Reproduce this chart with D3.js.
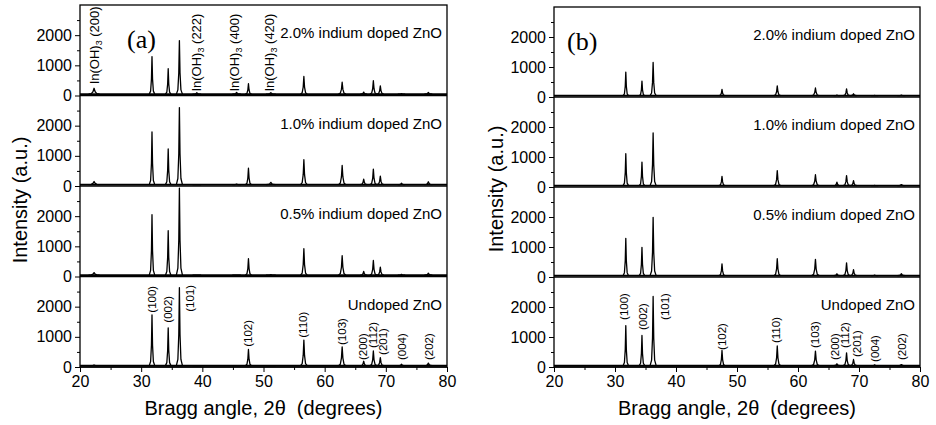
<!DOCTYPE html>
<html>
<head>
<meta charset="utf-8">
<script src="https://cdn.jsdelivr.net/npm/d3@7/dist/d3.min.js"></script>
<style>
  body { margin: 0; background: #fff; }
  svg { font-family: "Liberation Sans", Arial, sans-serif; }
  .axis text { font-size: 16px; fill: #000; }
  .axis line { stroke: #000; stroke-width: 1; }
  .axis .domain { display: none; }
  .trace { fill: none; stroke: #000; stroke-width: 1.3; stroke-linejoin: round; }
  .trace.base { stroke-width: 1.8; }
  .frame { fill: none; stroke: #000; stroke-width: 1.3; }
  .sample-label { font-size: 15px; text-anchor: end; }
  .hkl-label { font-size: 11.5px; }
  .inoh-label { font-size: 13px; }
  .axis-title { font-size: 20px; white-space: pre; text-anchor: middle; }
  .panel-letter { font-family: "Liberation Serif", "Times New Roman", serif; font-size: 26px; }
</style>
</head>
<body>
<div id="chart"></div>
<script>
// ---- data ----
const samples = ['2.0% indium doped ZnO', '1.0% indium doped ZnO', '0.5% indium doped ZnO', 'Undoped ZnO'];

// ZnO reflections, 2theta (deg)
const znoPeaks = [31.77, 34.42, 36.25, 47.54, 56.60, 62.86, 66.38, 67.96, 69.10, 72.56, 76.95];
const znoHkl = ['(100)', '(002)', '(101)', '(102)', '(110)', '(103)', '(200)', '(112)', '(201)', '(004)', '(202)'];
const peakHalfWidths = [0.45, 0.45, 0.5, 0.5, 0.55, 0.6, 0.55, 0.55, 0.55, 0.6, 0.65];

// In(OH)3 reflections seen in (a)
const inohPeaks = [22.3, 39.1, 45.6, 51.2];
const inohHkl = ['(200)', '(222)', '(400)', '(420)'];
const inohHalfWidths = [0.9, 0.7, 0.7, 0.8];

const baseLevel = 45;

// panel (a) peak heights, same order as znoPeaks
const a20 = [1290, 890, 1820, 390, 630, 440, 110, 490, 320, 60, 100];
const a10 = [1790, 1230, 2600, 590, 870, 680, 230, 560, 330, 90, 140];
const a05 = [2050, 1520, 2930, 590, 920, 690, 170, 530, 310, 70, 110];
const a00 = [1730, 1300, 2630, 580, 890, 670, 190, 530, 310, 90, 130];
// panel (a) In(OH)3 bumps
const a20In = [240, 90, 100, 90];
const a10In = [150, 45, 60, 120];
const a05In = [130, 45, 45, 60];
const a00In = [60, 45, 45, 45];

// panel (b) peak heights
const b20 = [830, 530, 1150, 255, 370, 300, 60, 270, 110, 50, 60];
const b10 = [1110, 830, 1800, 355, 545, 410, 160, 380, 210, 50, 80];
const b05 = [1290, 990, 1990, 440, 610, 590, 110, 470, 245, 60, 110];
const b00 = [1380, 1050, 2350, 550, 700, 530, 110, 470, 250, 70, 80];

// hkl annotation anchors [2theta, intensity at label foot] (undoped panels)
const hklAnchorsA = [[31.8, 1800], [34.4, 1470], [38.0, 1830], [47.5, 670], [56.5, 970], [62.8, 730],
                     [66.3, 230], [67.9, 630], [69.6, 400], [72.6, 230], [77.0, 230]];
const hklAnchorsB = [[31.5, 1570], [34.6, 1230], [38.2, 1570], [47.5, 570], [56.4, 800], [62.8, 630],
                     [66.1, 230], [67.7, 630], [69.7, 330], [72.6, 170], [77.0, 230]];
const inohAnchors = [[22.3, 370], [39.1, 130], [45.2, 130], [51.0, 130]];

const xTicks = [20, 30, 40, 50, 60, 70, 80];
const xMinorTicks = [25, 35, 45, 55, 65, 75];
const yTicks = [0, 1000, 2000];
const yMinorTicks = [500, 1500, 2500];

class XrdPanel {
    constructor(_config, _heights, _inohHeights, _hklAnchors) {
        this.config = {
            svg: _config.svg,
            left: _config.left,
            right: _config.right,
            top: _config.top,
            bottom: _config.bottom,
            letter: _config.letter,
            letterX: _config.letterX,
            titleY: _config.titleY,
            titleX: _config.titleX,
            showInoh: _config.showInoh || false
        };
        this.heights = _heights;
        this.inohHeights = _inohHeights;
        this.hklAnchors = _hklAnchors;
        // shape of one reflection: offsets (x half width) and fraction of peak height
        this.peakOffsets = [-1, -0.5, -0.2, 0, 0.2, 0.5, 1];
        this.peakFractions = [0, 0.08, 0.4, 1, 0.4, 0.08, 0];
        this.initVis();
    }

    initVis() {
        let vis = this;
        const c = vis.config;
        vis.subHeight = (c.bottom - c.top) / samples.length;
        vis.xScale = d3.scaleLinear().domain([20, 80]).range([c.left, c.right]);
        vis.g = c.svg.append('g').attr('class', 'panel');
        vis.renderVis();
    }

    peakPath(yScale, pos, h, w) {
        let vis = this;
        const pts = vis.peakOffsets.map((o, k) => [pos + o * w, baseLevel + (h - baseLevel) * vis.peakFractions[k]]);
        return d3.line().x(d => vis.xScale(d[0])).y(d => yScale(d[1]))(pts);
    }

    renderVis() {
        let vis = this;
        const c = vis.config;

        samples.forEach((name, i) => {
            const subTop = c.top + i * vis.subHeight;
            const yScale = d3.scaleLinear().domain([0, 3000]).range([subTop + vis.subHeight, subTop]);
            const sub = vis.g.append('g').attr('class', 'sub');

            // baseline
            sub.append('path').attr('class', 'trace base')
                .attr('d', d3.line().x(d => vis.xScale(d)).y(() => yScale(baseLevel))([20, 80]));

            // In(OH)3 bumps
            if (vis.inohHeights) {
                sub.selectAll('.bump')
                    .data(inohPeaks.map((p, k) => ({ p, h: vis.inohHeights[i][k], w: inohHalfWidths[k] })))
                    .join('path').attr('class', 'trace bump')
                    .attr('d', d => vis.peakPath(yScale, d.p, d.h, d.w));
            }

            // ZnO reflections
            sub.selectAll('.peak')
                .data(znoPeaks.map((p, k) => ({ p, h: vis.heights[i][k], w: peakHalfWidths[k] })))
                .join('path').attr('class', 'trace peak')
                .attr('d', d => vis.peakPath(yScale, d.p, d.h, d.w));

            // y axis
            sub.append('g').attr('class', 'axis')
                .attr('transform', `translate(${c.left},0)`)
                .call(d3.axisLeft(yScale).tickValues(yTicks).tickSize(5).tickPadding(3).tickFormat(d3.format('d')));
            sub.append('g').attr('class', 'axis')
                .attr('transform', `translate(${c.left},0)`)
                .call(d3.axisLeft(yScale).tickValues(yMinorTicks).tickSize(3).tickFormat(''));

            // separator / zero line
            sub.append('line')
                .attr('class', 'frame')
                .attr('x1', c.left).attr('x2', c.right)
                .attr('y1', yScale(0)).attr('y2', yScale(0));

            sub.append('text').attr('class', 'sample-label')
                .attr('x', c.right - 5)
                .attr('y', subTop + 33)
                .text(name);

            // hkl labels on the undoped pattern
            if (i === samples.length - 1) {
                sub.selectAll('.hkl-label')
                    .data(vis.hklAnchors.map((a, k) => ({ a, t: znoHkl[k] })))
                    .join('text').attr('class', 'hkl-label')
                    .attr('transform', d => `translate(${vis.xScale(d.a[0])},${yScale(d.a[1])}) rotate(-90)`)
                    .attr('dy', '0.35em')
                    .text(d => d.t);
            }

            // In(OH)3 labels on the 2.0% pattern
            if (i === 0 && c.showInoh) {
                const lab = sub.selectAll('.inoh-label')
                    .data(inohAnchors.map((a, k) => ({ a, t: inohHkl[k] })))
                    .join('text').attr('class', 'inoh-label')
                    .attr('transform', d => `translate(${vis.xScale(d.a[0])},${yScale(d.a[1])}) rotate(-90)`)
                    .attr('dy', '0.35em');
                lab.append('tspan').text('In(OH)');
                lab.append('tspan').attr('font-size', '9px').attr('dy', '3').text('3');
                lab.append('tspan').attr('dy', '-3').text(d => '\u00a0' + d.t);
            }
        });

        // x axis
        vis.g.append('g').attr('class', 'axis')
            .attr('transform', `translate(0,${c.bottom})`)
            .call(d3.axisBottom(vis.xScale).tickValues(xTicks).tickSize(5).tickPadding(4).tickFormat(d3.format('d')));
        vis.g.append('g').attr('class', 'axis')
            .attr('transform', `translate(0,${c.bottom})`)
            .call(d3.axisBottom(vis.xScale).tickValues(xMinorTicks).tickSize(3).tickFormat(''));

        // frame
        vis.g.append('rect').attr('class', 'frame')
            .attr('x', c.left).attr('y', c.top)
            .attr('width', c.right - c.left).attr('height', c.bottom - c.top);

        vis.g.append('text').attr('class', 'panel-letter')
            .attr('x', c.letterX).attr('y', c.top + 43)
            .text(c.letter);

        vis.g.append('text').attr('class', 'axis-title')
            .attr('x', (c.left + c.right) / 2).attr('y', 415)
            .text('Bragg angle, 2\u03b8  (degrees)');

        vis.g.append('text').attr('class', 'axis-title')
            .attr('transform', `translate(${c.titleX},${c.titleY}) rotate(-90)`)
            .text('Intensity (a.u.)');
    }
}

const svg = d3.select('#chart').append('svg')
    .attr('width', 936).attr('height', 425);

new XrdPanel({ svg, left: 80, right: 447, top: 5, bottom: 367, letter: '(a)', letterX: 127, titleX: 27, titleY: 200, showInoh: true },
    [a20, a10, a05, a00], [a20In, a10In, a05In, a00In], hklAnchorsA);
new XrdPanel({ svg, left: 554, right: 920, top: 7, bottom: 367, letter: '(b)', letterX: 567, titleX: 503, titleY: 189 },
    [b20, b10, b05, b00], null, hklAnchorsB);
</script>
</body>
</html>
